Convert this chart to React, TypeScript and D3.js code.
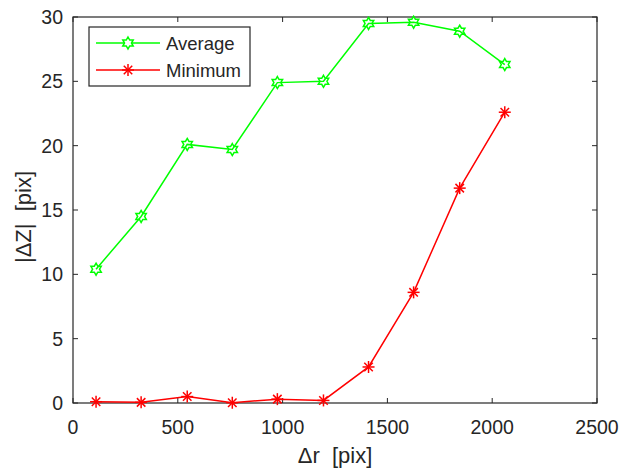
import React from "react";
import * as d3 from "d3";

const xValues = [110, 325, 545, 760, 975, 1195, 1410, 1625, 1845, 2060];
const averageValues = [10.4, 14.5, 20.1, 19.7, 24.9, 25.0, 29.5, 29.6, 28.9, 26.3];
const minimumValues = [0.1, 0.05, 0.5, 0.02, 0.3, 0.2, 2.8, 8.6, 16.7, 22.6];
const xTicks = [0, 500, 1000, 1500, 2000, 2500];
const yTicks = [0, 5, 10, 15, 20, 25, 30];
const seriesNames = ["Average", "Minimum"];

const W = 622, H = 469;
const left = 73, right = 597, top = 17, bottom = 403;
const axisColor = "#262626";
const font = "'Liberation Sans', Arial, sans-serif";

function hexagramPath(cx: number, cy: number, r: number) {
  const pts: [number, number][] = [];
  const ri = r * 0.577;
  for (let i = 0; i < 12; i++) {
    const a = -Math.PI / 2 + (i * Math.PI) / 6;
    const rr = i % 2 === 0 ? r : ri;
    pts.push([cx + rr * Math.cos(a), cy + rr * Math.sin(a)]);
  }
  return "M" + pts.map((p) => p.join(",")).join("L") + "Z";
}

function Asterisk({ cx, cy, r }: { cx: number; cy: number; r: number }) {
  const d = r * 0.707;
  return (
    <g stroke="#ff0000" strokeWidth={1.5}>
      <line x1={cx - r} y1={cy} x2={cx + r} y2={cy} />
      <line x1={cx} y1={cy - r} x2={cx} y2={cy + r} />
      <line x1={cx - d} y1={cy - d} x2={cx + d} y2={cy + d} />
      <line x1={cx - d} y1={cy + d} x2={cx + d} y2={cy - d} />
    </g>
  );
}

export default function App() {
  const x = d3.scaleLinear().domain([0, 2500]).range([left, right]);
  const y = d3.scaleLinear().domain([0, 30]).range([bottom, top]);
  const line = d3
    .line<[number, number]>()
    .x((d) => x(d[0]))
    .y((d) => y(d[1]));
  const avg: [number, number][] = xValues.map((v, i) => [v, averageValues[i]]);
  const mn: [number, number][] = xValues.map((v, i) => [v, minimumValues[i]]);
  const tickLen = 5;

  return (
    <svg
      width={W}
      height={H}
      style={{ position: "absolute", left: 0, top: 0, background: "#fff" }}
      fontFamily={font}
    >
      <rect x={0} y={0} width={W} height={H} fill="#fff" />
      {xTicks.map((t) => (
        <g key={"xt" + t}>
          <line x1={x(t)} x2={x(t)} y1={bottom} y2={bottom - tickLen} stroke={axisColor} />
          <line x1={x(t)} x2={x(t)} y1={top} y2={top + tickLen} stroke={axisColor} />
          <text x={x(t)} y={434} textAnchor="middle" fontSize={19.5} fill={axisColor}>
            {t}
          </text>
        </g>
      ))}
      {yTicks.map((t) => (
        <g key={"yt" + t}>
          <line x1={left} x2={left + tickLen} y1={y(t)} y2={y(t)} stroke={axisColor} />
          <line x1={right} x2={right - tickLen} y1={y(t)} y2={y(t)} stroke={axisColor} />
          <text x={63} y={y(t) + 7} textAnchor="end" fontSize={19.5} fill={axisColor}>
            {t}
          </text>
        </g>
      ))}
      <rect
        x={left}
        y={top}
        width={right - left}
        height={bottom - top}
        fill="none"
        stroke={axisColor}
        strokeWidth={1.2}
      />
      <path d={line(avg) || ""} fill="none" stroke="#00ff00" strokeWidth={1.5} />
      {avg.map((d, i) => (
        <path
          key={"a" + i}
          d={hexagramPath(x(d[0]), y(d[1]), 6)}
          fill="none"
          stroke="#00ff00"
          strokeWidth={1.5}
        />
      ))}
      <path d={line(mn) || ""} fill="none" stroke="#ff0000" strokeWidth={1.5} />
      {mn.map((d, i) => (
        <Asterisk key={"m" + i} cx={x(d[0])} cy={y(d[1])} r={6} />
      ))}
      <text
        x={(left + right) / 2}
        y={463}
        textAnchor="middle"
        fontSize={22}
        fill={axisColor}
        xmlSpace="preserve"
        style={{ whiteSpace: "pre" }}
      >
        {"Δr  [pix]"}
      </text>
      <text
        transform={`translate(31, 217) rotate(-90)`}
        textAnchor="middle"
        fontSize={22}
        fill={axisColor}
        xmlSpace="preserve"
        style={{ whiteSpace: "pre" }}
      >
        {"|ΔZ|  [pix]"}
      </text>
      <rect x={89} y={27} width={161} height={59} fill="#fff" stroke={axisColor} strokeWidth={1.2} />
      <line x1={96} x2={160} y1={43} y2={43} stroke="#00ff00" strokeWidth={1.5} />
      <path d={hexagramPath(128, 43, 6)} fill="#fff" stroke="#00ff00" strokeWidth={1.5} />
      <text x={166} y={49.5} fontSize={18.5} fill={axisColor}>
        {seriesNames[0]}
      </text>
      <line x1={96} x2={160} y1={70} y2={70} stroke="#ff0000" strokeWidth={1.5} />
      <Asterisk cx={128} cy={70} r={6} />
      <text x={166} y={76.5} fontSize={18.5} fill={axisColor}>
        {seriesNames[1]}
      </text>
    </svg>
  );
}
